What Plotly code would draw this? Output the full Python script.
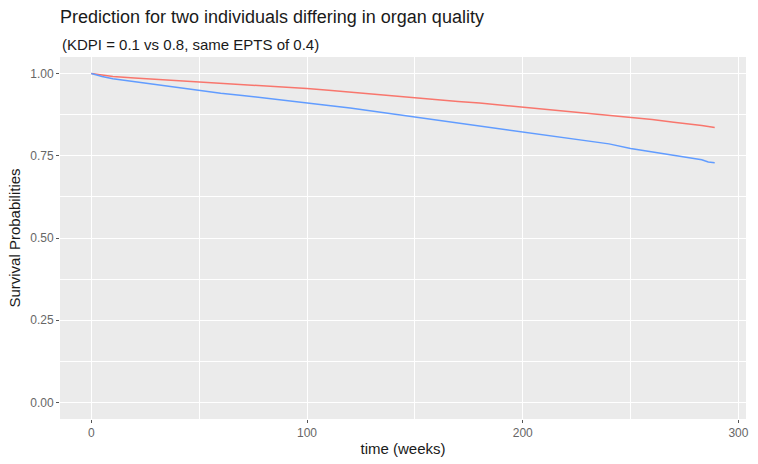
import plotly.graph_objects as go

# ---- data ----
weeks = [0, 2, 5, 10, 20, 30, 40, 50, 60, 70, 80, 90, 100, 110, 120, 130, 140,
         150, 160, 170, 180, 190, 200, 210, 220, 230, 240, 250, 260, 270, 275,
         280, 283, 286, 289]

surv_kdpi_01 = [1.000, 0.998, 0.995, 0.991, 0.986, 0.982, 0.979, 0.976, 0.972,
                0.968, 0.964, 0.959, 0.954, 0.949, 0.943, 0.937, 0.931, 0.925,
                0.920, 0.915, 0.910, 0.904, 0.898, 0.892, 0.886, 0.880, 0.873,
                0.866, 0.860, 0.852, 0.849, 0.845, 0.842, 0.839, 0.836]

surv_kdpi_08 = [1.000, 0.996, 0.991, 0.984, 0.975, 0.966, 0.956, 0.947, 0.940,
                0.933, 0.926, 0.919, 0.912, 0.903, 0.895, 0.886, 0.877, 0.868,
                0.860, 0.851, 0.842, 0.833, 0.824, 0.815, 0.806, 0.796, 0.786,
                0.772, 0.762, 0.752, 0.746, 0.742, 0.738, 0.731, 0.729]

x_ticks = [0, 100, 200, 300]
x_minor = [50, 150, 250]
y_ticks = [0.0, 0.25, 0.5, 0.75, 1.0]
y_tick_labels = ["0.00", "0.25", "0.50", "0.75", "1.00"]
y_minor = [0.125, 0.375, 0.625, 0.875]

title_text = "Prediction for two individuals differing in organ quality"
subtitle_text = "(KDPI = 0.1 vs 0.8, same EPTS of 0.4)"

W, H = 758, 464
FONT = "Liberation Sans, Arial, sans-serif"

fig = go.Figure()
fig.add_trace(go.Scatter(x=weeks, y=surv_kdpi_01, mode="lines", name="KDPI 0.1",
                         line=dict(color="#F8766D", width=1.5)))
fig.add_trace(go.Scatter(x=weeks, y=surv_kdpi_08, mode="lines", name="KDPI 0.8",
                         line=dict(color="#619CFF", width=1.5)))

ml, mr, mt, mb = 60, 9, 57, 39

fig.update_layout(
    width=W, height=H,
    margin=dict(l=ml, r=mr, t=mt, b=mb),
    paper_bgcolor="white",
    plot_bgcolor="#EBEBEB",
    showlegend=False,
    font=dict(family=FONT, color="#1a1a1a"),
    title=dict(text=title_text, font=dict(size=18, color="#1a1a1a"),
               x=ml / W, xanchor="left", xref="container",
               y=1 - 17 / H, yanchor="middle", yref="container"),
    annotations=[dict(text=subtitle_text, xref="paper", yref="paper",
                      x=0, xanchor="left", y=1 + (mt - 44) / (H - mt - mb),
                      yanchor="middle", showarrow=False,
                      font=dict(size=15, color="#1a1a1a"))],
)

fig.update_xaxes(
    range=[-14.5, 303.5], tickvals=x_ticks, ticks="outside", ticklen=3,
    tickcolor="#555555", tickwidth=1,
    tickfont=dict(size=12, color="#666666"),
    showgrid=True, gridcolor="white", gridwidth=1.1,
    minor=dict(tickvals=x_minor, showgrid=True, gridcolor="white", gridwidth=0.5),
    zeroline=False, showline=False,
    title=dict(text="time (weeks)", font=dict(size=15, color="#1a1a1a"), standoff=4),
)
fig.update_yaxes(
    range=[-0.05, 1.05], tickvals=y_ticks, ticktext=y_tick_labels,
    ticks="outside", ticklen=3, tickcolor="#555555", tickwidth=1,
    tickfont=dict(size=12, color="#666666"),
    showgrid=True, gridcolor="white", gridwidth=1.1,
    minor=dict(tickvals=y_minor, showgrid=True, gridcolor="white", gridwidth=0.5),
    zeroline=False, showline=False,
    title=dict(text="Survival Probabilities", font=dict(size=15, color="#1a1a1a"), standoff=5),
)

fig.write_html("out.html")
